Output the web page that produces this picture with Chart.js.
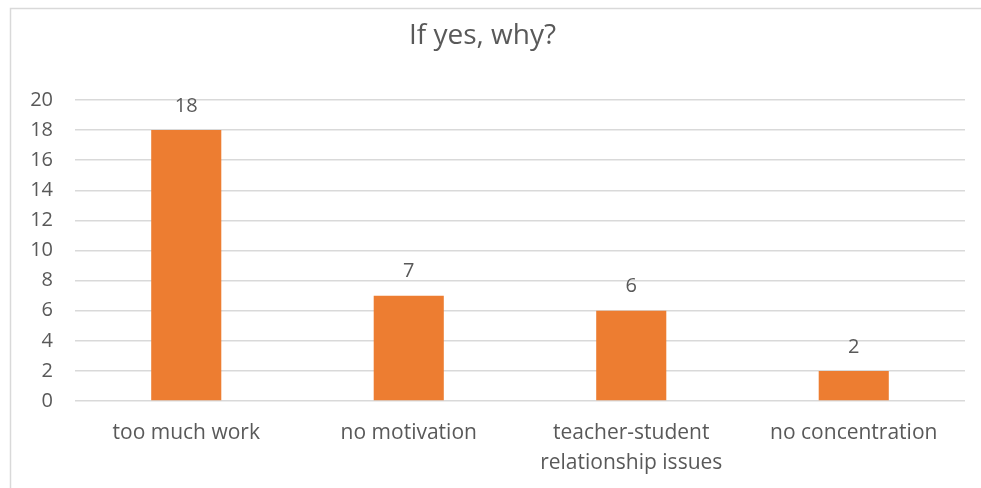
<!DOCTYPE html>
<html>
<head>
<meta charset="utf-8">
<script src="https://cdn.jsdelivr.net/npm/chart.js@4.4.1/dist/chart.umd.min.js"></script>
<style>
html,body{margin:0;padding:0;background:#fff;}
#wrap{position:relative;width:981px;height:488px;}
</style>
</head>
<body>
<div id="wrap"><canvas id="c" width="981" height="488"></canvas></div>
<script>
const titleText = "If yes, why?";
const categories = [["too much work"], ["no motivation"], ["teacher-student", "relationship issues"], ["no concentration"]];
const values = [18, 7, 6, 2];
const yTicks = [0, 2, 4, 6, 8, 10, 12, 14, 16, 18, 20];

const FONT = "'Open Sans', Lato, sans-serif";
const TEXT = "#595959";

const borderPlugin = {
  id: 'borderPlugin',
  beforeDraw(chart) {
    const ctx = chart.ctx;
    ctx.save();
    ctx.fillStyle = '#fff';
    ctx.fillRect(0, 0, chart.width, chart.height);
    ctx.strokeStyle = '#d9d9d9';
    ctx.lineWidth = 1.5;
    ctx.strokeRect(10.5, 8.5, chart.width + 20, chart.height + 20);
    ctx.restore();
  }
};

const labelPlugin = {
  id: 'labelPlugin',
  afterDatasetsDraw(chart) {
    const ctx = chart.ctx;
    const meta = chart.getDatasetMeta(0);
    ctx.save();
    ctx.fillStyle = TEXT;
    ctx.font = "20px " + FONT;
    ctx.textAlign = 'center';
    ctx.textBaseline = 'middle';
    meta.data.forEach((bar, i) => {
      ctx.fillText(String(values[i]), bar.x, bar.y - 24);
    });
    ctx.restore();
  }
};

new Chart(document.getElementById('c'), {
  type: 'bar',
  data: {
    labels: categories,
    datasets: [{
      data: values,
      backgroundColor: '#ED7D31',
      borderWidth: 0,
      categoryPercentage: 1,
      barPercentage: 0.315
    }]
  },
  options: {
    responsive: false,
    animation: false,
    layout: { padding: { top: 0, right: 16, bottom: 0, left: 0 } },
    plugins: {
      legend: { display: false },
      tooltip: { enabled: false },
      title: {
        display: true,
        text: titleText,
        color: TEXT,
        font: { family: FONT, size: 28, weight: 'normal', lineHeight: 1.2 },
        padding: { top: 19, bottom: 47.4 }
      }
    },
    scales: {
      x: {
        grid: { display: false, drawTicks: false },
        border: { display: false },
        ticks: {
          color: TEXT,
          font: { family: FONT, size: 21, lineHeight: 1.43 },
          padding: 17,
          maxRotation: 0,
          autoSkip: false
        },
        afterFit(scale) { scale.height = 87; }
      },
      y: {
        min: 0,
        max: 20,
        afterBuildTicks(scale) { scale.ticks = yTicks.map(v => ({ value: v })); },
        grid: { color: '#d9d9d9', lineWidth: 1.5, drawTicks: false },
        border: { display: false },
        ticks: {
          color: TEXT,
          font: { family: FONT, size: 20 },
          padding: 22
        },
        afterFit(scale) { scale.width = 75; }
      }
    }
  },
  plugins: [borderPlugin, labelPlugin]
});
</script>
</body>
</html>
